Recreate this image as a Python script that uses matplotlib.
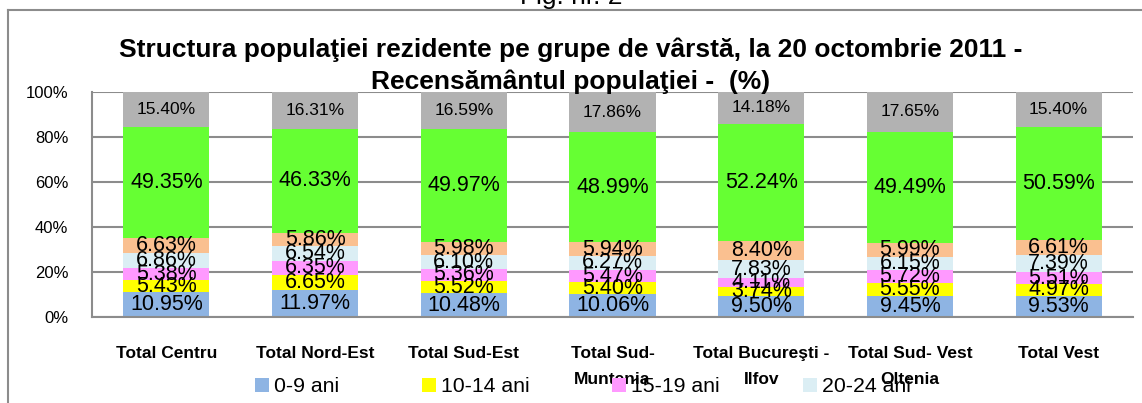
import numpy as np
import matplotlib
matplotlib.use('Agg')
import matplotlib.pyplot as plt
from matplotlib.lines import Line2D
from matplotlib.patches import Patch

plt.rcParams['font.family'] = ['Liberation Sans', 'DejaVu Sans']

regions = ['Total Centru', 'Total Nord-Est', 'Total Sud-Est', 'Total Sud-\nMuntenia',
           'Total Bucureşti -\nIlfov', 'Total Sud- Vest\nOltenia', 'Total Vest']
groups = ['0-9 ani', '10-14 ani', '15-19 ani', '20-24 ani', '25-29 ani', '30-64 ani', '65 ani şi peste']

v_0_9 = [10.95, 11.97, 10.48, 10.06, 9.50, 9.45, 9.53]
v_10_14 = [5.43, 6.65, 5.52, 5.40, 3.74, 5.55, 4.97]
v_15_19 = [5.38, 6.35, 5.36, 5.47, 4.11, 5.72, 5.51]
v_20_24 = [6.86, 6.54, 6.10, 6.27, 7.83, 6.15, 7.39]
v_25_29 = [6.63, 5.86, 5.98, 5.94, 8.40, 5.99, 6.61]
v_30_64 = [49.35, 46.33, 49.97, 48.99, 52.24, 49.49, 50.59]
v_65 = [15.40, 16.31, 16.59, 17.86, 14.18, 17.65, 15.40]

series = [v_0_9, v_10_14, v_15_19, v_20_24, v_25_29, v_30_64, v_65]
colors = ['#8EB4E3', '#FFFF00', '#FF99FF', '#DBEEF4', '#FAC090', '#66FF33', '#B2B2B2']

W, H = 1142, 403
fig = plt.figure(figsize=(W / 100, H / 100), dpi=100)
ax = fig.add_axes([92 / W, 1 - 317 / H, (1133 - 92) / W, (317 - 92) / H])

x = np.arange(len(regions))
bottom = np.zeros(len(regions))
for i, vals in enumerate(series):
    vals = np.array(vals)
    ax.bar(x, vals, bottom=bottom, width=0.58, color=colors[i], edgecolor='none', zorder=2)
    fs = 12.5 if i == len(series) - 1 else 15.5
    for xi, b, v in zip(x, bottom, vals):
        ax.text(xi, b + v / 2, '{:.2f}%'.format(v), ha='center', va='center',
                fontsize=fs, zorder=3)
    bottom += vals

ax.set_xlim(-0.5, len(regions) - 0.5)
ax.set_ylim(0, 100)
ax.set_yticks(np.arange(0, 101, 20))
ax.set_yticklabels(['{:d}%'.format(t) for t in range(0, 101, 20)], fontsize=12)
ax.set_xticks(x)
ax.set_xticklabels(regions, fontsize=12.5, fontweight='bold', linespacing=1.9)
ax.tick_params(axis='y', length=0, pad=17)
ax.tick_params(axis='x', length=0, pad=21)

ax.yaxis.grid(True, color='#8c8c8c', lw=1.5, zorder=0)
ax.set_axisbelow(True)
for s in ['top', 'right']:
    ax.spines[s].set_visible(False)
for s in ['left', 'bottom']:
    ax.spines[s].set_color('#8c8c8c')
    ax.spines[s].set_linewidth(1.5)

# legend (only the first four entries are visible in the original)
handles = [Patch(facecolor=colors[i], edgecolor='none', label=groups[i]) for i in range(4)]
fig.legend(handles=handles, loc='center left', bbox_to_anchor=(255 / W, 16 / H),
           ncol=4, frameon=False, fontsize=15.3, handlelength=0.66, handleheight=0.66,
           handletextpad=0.23, columnspacing=3.9, borderpad=0, borderaxespad=0)

fig.text(0.5, 1 - 50 / H, 'Structura populaţiei rezidente pe grupe de vârstă, la 20 octombrie 2011 -',
         ha='center', va='center', fontsize=19, fontweight='bold')
fig.text(0.5, 1 - 82 / H, 'Recensământul populaţiei -  (%)',
         ha='center', va='center', fontsize=19, fontweight='bold')
fig.text(0.5, 1 - 4 / H, 'Fig. nr. 2', ha='center', va='baseline', fontsize=19)

# outer frame
fig.add_artist(Line2D([8 / W, 8 / W], [0, 1 - 10 / H], transform=fig.transFigure,
                      color='#8c8c8c', lw=1.5))
fig.add_artist(Line2D([8 / W, 1], [1 - 10 / H, 1 - 10 / H], transform=fig.transFigure,
                      color='#8c8c8c', lw=1.5))

fig.savefig('out.png', dpi=100)
